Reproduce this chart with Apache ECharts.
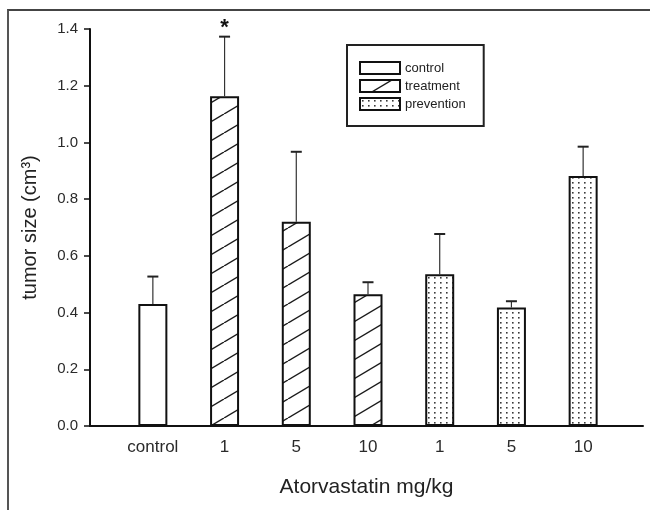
<!DOCTYPE html>
<html>
<head>
<meta charset="utf-8">
<script src="https://cdn.jsdelivr.net/npm/echarts@6/dist/echarts.min.js"></script>
<style>
html,body{margin:0;padding:0;background:#fff;}
#wrap{position:relative;width:650px;height:510px;}
#chart{position:absolute;left:0;top:0;width:650px;height:510px;}
#frame{position:absolute;left:7px;top:9px;width:643px;height:501px;border-left:2px solid #555;border-top:2px solid #444;box-sizing:border-box;pointer-events:none;}
</style>
</head>
<body>
<div id="wrap"><div id="chart"></div><div id="frame"></div></div>
<script>
// ---- data ----
var categories = ['control', '1', '5', '10', '1', '5', '10'];
var controlValues    = [0.43, '-', '-', '-', '-', '-', '-'];
var treatmentValues  = ['-', 1.163, 0.72, 0.465, '-', '-', '-'];
var preventionValues = ['-', '-', '-', '-', 0.535, 0.418, 0.882];
var errorValues      = [0.097, 0.21, 0.247, 0.042, 0.142, 0.022, 0.103];
var annotations      = ['', '*', '', '', '', '', ''];
var yTicks = [0, 0.2, 0.4, 0.6, 0.8, 1.0, 1.2, 1.4];

var FONT = 'Arial, "Liberation Sans", sans-serif';

function makeHatch() {
  var W = 32, H = 19;
  var c = document.createElement('canvas');
  c.width = W; c.height = H;
  var g = c.getContext('2d');
  g.fillStyle = '#fff'; g.fillRect(0, 0, W, H);
  g.strokeStyle = '#1a1a1a'; g.lineWidth = 1.4;
  for (var k = -1; k <= 1; k++) {
    g.beginPath();
    g.moveTo(k * W, H); g.lineTo(k * W + W, 0);
    g.stroke();
  }
  return c;
}
function makeDots() {
  var W = 6, H = 5;
  var c = document.createElement('canvas');
  c.width = W; c.height = H;
  var g = c.getContext('2d');
  g.fillStyle = '#fff'; g.fillRect(0, 0, W, H);
  g.fillStyle = '#3a3a3a';
  g.fillRect(2, 2, 1.6, 1.6);
  return c;
}
var hatchPattern = { image: makeHatch(), repeat: 'repeat' };
var dotPattern = { image: makeDots(), repeat: 'repeat' };

var errData = categories.map(function (c, i) {
  var mean = [controlValues[i], treatmentValues[i], preventionValues[i]].filter(function (v) { return v !== '-'; })[0];
  return [i, mean, mean + errorValues[i]];
});

var chart = echarts.init(document.getElementById('chart'), null, { renderer: 'canvas' });
var barStyleBase = { borderColor: '#111', borderWidth: 2 };

chart.setOption({
  animation: false,
  backgroundColor: '#fff',
  textStyle: { fontFamily: FONT },
  grid: [
    { left: 90, right: 7, top: 29, bottom: 84 },
    { left: 117, right: 31, top: 29, bottom: 84 }
  ],
  legend: {
    orient: 'vertical',
    left: 347, top: 45,
    padding: [16, 18, 15, 12],
    itemWidth: 40, itemHeight: 12, itemGap: 4,
    icon: 'rect',
    borderColor: '#222', borderWidth: 2,
    textStyle: { fontSize: 13, color: '#222', fontFamily: FONT },
    data: ['control', 'treatment', 'prevention']
  },
  xAxis: [
    {
      gridIndex: 0, type: 'value', min: 0, max: 1,
      axisLine: { show: true, onZero: false, lineStyle: { color: '#111', width: 2 } },
      axisTick: { show: false }, axisLabel: { show: false }, splitLine: { show: false },
      name: 'Atorvastatin mg/kg', nameLocation: 'middle', nameGap: 51,
      nameTextStyle: { fontSize: 21, color: '#222', fontFamily: FONT }
    },
    {
      gridIndex: 1, type: 'category', data: categories, boundaryGap: true,
      axisLine: { show: false }, axisTick: { show: false },
      axisLabel: { fontSize: 17, color: '#2a2a2a', margin: 13, fontFamily: FONT }
    }
  ],
  yAxis: [
    {
      gridIndex: 0, type: 'value', min: 0, max: 1.4, interval: 0.2,
      axisLine: { show: true, lineStyle: { color: '#111', width: 2 } },
      axisTick: { show: true, length: 6, lineStyle: { color: '#111', width: 1.5 } },
      axisLabel: { fontSize: 15, color: '#2a2a2a', margin: 12, fontFamily: FONT,
        formatter: function (v) { return v.toFixed(1); } },
      splitLine: { show: false },
      name: 'tumor size (cm\u00B3)', nameLocation: 'middle', nameGap: 50, nameRotate: 90,
      nameTextStyle: { fontSize: 20, color: '#222', fontFamily: FONT }
    },
    { gridIndex: 1, type: 'value', min: 0, max: 1.4, show: false }
  ],
  series: [
    { name: 'control', type: 'bar', xAxisIndex: 1, yAxisIndex: 1, data: controlValues,
      barWidth: 29, barGap: '-100%', itemStyle: Object.assign({ color: '#fff' }, barStyleBase) },
    { name: 'treatment', type: 'bar', xAxisIndex: 1, yAxisIndex: 1, data: treatmentValues,
      barWidth: 29, barGap: '-100%', itemStyle: Object.assign({ color: hatchPattern }, barStyleBase) },
    { name: 'prevention', type: 'bar', xAxisIndex: 1, yAxisIndex: 1, data: preventionValues,
      barWidth: 29, barGap: '-100%', itemStyle: Object.assign({ color: dotPattern }, barStyleBase) },
    {
      name: 'error', type: 'custom', xAxisIndex: 1, yAxisIndex: 1, data: errData, z: 1,
      renderItem: function (params, api) {
        var idx = api.value(0);
        var top = api.coord([idx, api.value(1)]);
        var cap = api.coord([idx, api.value(2)]);
        var note = annotations[params.dataIndex];
        var children = [
          { type: 'line', shape: { x1: top[0], y1: top[1], x2: cap[0], y2: cap[1] },
            style: { stroke: '#333', lineWidth: 1.2 } },
          { type: 'line', shape: { x1: cap[0] - 5.5, y1: cap[1], x2: cap[0] + 5.5, y2: cap[1] },
            style: { stroke: '#222', lineWidth: 2 } }
        ];
        if (note) {
          children.push({ type: 'text', style: { text: note, x: cap[0], y: cap[1] + 2,
            align: 'center', verticalAlign: 'bottom', font: 'bold 22px ' + FONT, fill: '#111' } });
        }
        return { type: 'group', children: children };
      }
    }
  ]
});
</script>
</body>
</html>
